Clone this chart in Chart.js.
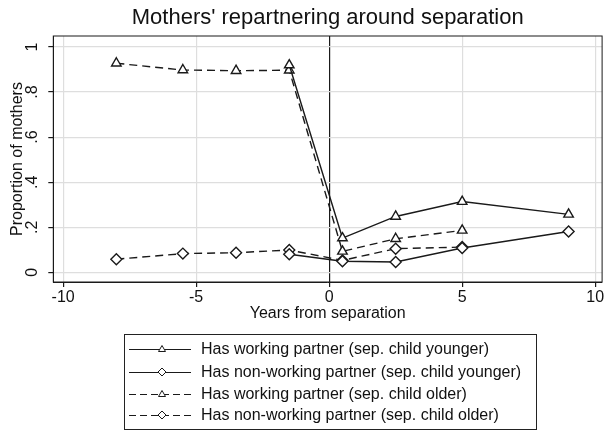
<!DOCTYPE html>
<html>
<head>
<meta charset="utf-8">
<script src="https://cdn.jsdelivr.net/npm/chart.js@4.4.0/dist/chart.umd.min.js"></script>
<style>
  html, body { margin: 0; padding: 0; background: #fff; }
  #wrap { position: relative; width: 609px; height: 434px; }
  #legend {
    position: absolute; left: 124px; top: 334px; width: 413px; height: 96px;
    border: 1px solid #222; box-sizing: border-box;
    font-family: "Liberation Sans", Arial, sans-serif; font-size: 16px; color: #111;
  }
  .row { position: absolute; left: 0; height: 20px; width: 100%; }
  .row canvas { position: absolute; left: 3px; top: 3px; }
  .row span { position: absolute; left: 76px; top: 0; line-height: 20px; white-space: nowrap; }
</style>
</head>
<body>
<div id="wrap">
  <canvas id="chart" width="609" height="434"></canvas>
  <div id="legend"></div>
</div>
<script>
// x positions (years from separation)
const xYounger = [-1.5, 0.5, 2.5, 5, 9];
const xOlder = [-8, -5.5, -3.5, -1.5, 0.5, 2.5, 5];

// proportions
const workYounger = [0.92, 0.152, 0.248, 0.314, 0.257];
const nonWorkYounger = [0.08, 0.049, 0.046, 0.108, 0.181];
const workOlder = [0.928, 0.898, 0.895, 0.897, 0.093, 0.149, 0.186];
const nonWorkOlder = [0.058, 0.083, 0.087, 0.099, 0.053, 0.105, 0.112];

const seriesLabels = [
  'Has working partner (sep. child younger)',
  'Has non-working partner (sep. child younger)',
  'Has working partner (sep. child older)',
  'Has non-working partner (sep. child older)'
];

const xTicks = [-10, -5, 0, 5, 10];
const yTicks = [0, 0.2, 0.4, 0.6, 0.8, 1];
const yTickLabels = ['0', '.2', '.4', '.6', '.8', '1'];

const FONT = '"Liberation Sans", Arial, sans-serif';
const INK = '#1a1a1a';

function pairs(xs, ys) {
  return xs.map((x, i) => ({ x: x, y: ys[i] }));
}

function series(label, xs, ys, marker, dashed) {
  return {
    label: label,
    data: pairs(xs, ys),
    borderColor: INK,
    borderWidth: 1.4,
    borderDash: dashed ? [8, 5] : [],
    pointStyle: marker,
    pointRadius: 5.5,
    pointBorderWidth: 1.4,
    pointBorderColor: INK,
    pointBackgroundColor: '#fff',
    fill: false,
    tension: 0
  };
}

// outline round the plot region
const frame = {
  id: 'frame',
  beforeDatasetsDraw(chart) {
    const { ctx, chartArea: a } = chart;
    ctx.save();
    ctx.strokeStyle = INK;
    ctx.lineWidth = 1;
    ctx.strokeRect(a.left, a.top, a.right - a.left, a.bottom - a.top);
    ctx.restore();
  }
};

const ctx = document.getElementById('chart').getContext('2d');
const chart = new Chart(ctx, {
  type: 'line',
  data: {
    datasets: [
      series(seriesLabels[0], xYounger, workYounger, 'triangle', false),
      series(seriesLabels[1], xYounger, nonWorkYounger, 'rectRot', false),
      series(seriesLabels[2], xOlder, workOlder, 'triangle', true),
      series(seriesLabels[3], xOlder, nonWorkOlder, 'rectRot', true)
    ]
  },
  options: {
    responsive: false,
    animation: false,
    layout: { padding: { left: 0, right: 3.5, top: 0, bottom: 111 } },
    plugins: {
      legend: { display: false },
      tooltip: { enabled: false },
      title: {
        display: true,
        fullSize: false,   // centre over the plot region, like the original
        text: "Mothers' repartnering around separation",
        color: '#111',
        font: { family: FONT, size: 22, weight: 'normal' },
        padding: { top: 5, bottom: 4.6 }
      }
    },
    scales: {
      x: {
        type: 'linear',
        min: -10.37,
        max: 10.26,
        afterBuildTicks: s => { s.ticks = xTicks.map(v => ({ value: v })); },
        afterFit: s => { s.height = 41; },
        grid: {
          color: c => (c.tick && c.tick.value === 0 ? INK : '#dedede'),
          lineWidth: 1.2,
          tickLength: 5,
          tickColor: INK
        },
        border: { color: INK, width: 1 },
        ticks: { color: '#111', font: { family: FONT, size: 16 }, padding: 1, maxRotation: 0, autoSkip: false },
        title: {
          display: true,
          text: 'Years from separation',
          color: '#111',
          font: { family: FONT, size: 16 },
          padding: 0
        }
      },
      y: {
        min: -0.043,
        max: 1.049,
        afterBuildTicks: s => { s.ticks = yTicks.map(v => ({ value: v })); },
        afterFit: s => { s.width = 53.3; },
        grid: { color: '#dedede', lineWidth: 1.2, tickLength: 5, tickColor: INK },
        border: { color: INK, width: 1 },
        ticks: {
          color: '#111',
          font: { family: FONT, size: 16 },
          minRotation: 90,
          maxRotation: 90,
          crossAlign: 'center',
          padding: 9,
          autoSkip: false,
          callback: (v, i) => yTickLabels[i]
        },
        title: {
          display: true,
          text: 'Proportion of mothers',
          color: '#111',
          font: { family: FONT, size: 16 },
          padding: { top: 7.5, bottom: 0 }
        }
      }
    }
  },
  plugins: [frame]
});

// Legend in a framed box below the plot, one entry per row
const rowTops = [4, 26.5, 49, 69.5];
const legendBox = document.getElementById('legend');
chart.data.datasets.forEach((ds, i) => {
  const row = document.createElement('div');
  row.className = 'row';
  row.style.top = rowTops[i] + 'px';

  const c = document.createElement('canvas');
  c.width = 64; c.height = 14;
  const g = c.getContext('2d');
  g.strokeStyle = ds.borderColor;
  g.lineWidth = 1;
  g.setLineDash(ds.borderDash.length ? [7, 4] : []);
  g.beginPath(); g.moveTo(1, 7.5); g.lineTo(63, 7.5); g.stroke();
  g.setLineDash([]);
  g.fillStyle = '#fff';
  g.beginPath();
  if (ds.pointStyle === 'triangle') {
    g.moveTo(34, 3.5); g.lineTo(37.5, 9.5); g.lineTo(30.5, 9.5);
  } else {
    g.moveTo(34, 3); g.lineTo(38, 7); g.lineTo(34, 11); g.lineTo(30, 7);
  }
  g.closePath(); g.fill(); g.stroke();
  row.appendChild(c);

  const t = document.createElement('span');
  t.textContent = ds.label;
  row.appendChild(t);
  legendBox.appendChild(row);
});
</script>
</body>
</html>
